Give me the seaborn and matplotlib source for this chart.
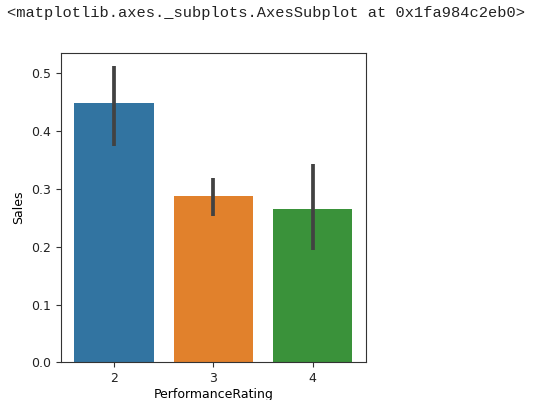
import matplotlib
matplotlib.use("Agg")
import matplotlib.pyplot as plt
import seaborn as sns
import pandas as pd

# Data
ratings = ["2", "3", "4"]
sales_mean = [0.449, 0.288, 0.265]
ci_low = [0.374, 0.253, 0.194]
ci_high = [0.513, 0.319, 0.342]
colors = ["#3274a1", "#e1812c", "#3a923a"]

df = pd.DataFrame({"PerformanceRating": ratings, "Sales": sales_mean})

plt.rcParams["font.size"] = 9

fig = plt.figure(figsize=(5.41, 4.0), dpi=100)
ax = fig.add_axes([0.112, 0.094, 0.565, 0.774])

sns.barplot(data=df, x="PerformanceRating", y="Sales", hue="PerformanceRating",
            palette=colors, errorbar=None, legend=False, ax=ax, width=0.8,
            saturation=1)
ax.vlines(range(len(ratings)), ci_low, ci_high, color="#424242", linewidth=2.7)

ax.set_ylim(0, 0.535)
ax.set_xlabel("PerformanceRating", fontsize=9, labelpad=2)
ax.set_ylabel("Sales", fontsize=9)
ax.tick_params(labelsize=9, colors="#333333", labelcolor="#222222")
for s in ax.spines.values():
    s.set_color("#333333")

fig.text(0.013, 0.967, "<matplotlib.axes._subplots.AxesSubplot at 0x1fa984c2eb0>",
         family="Liberation Mono", fontsize=11.1, va="center", ha="left", color="#222222")

fig.savefig("out.png", dpi=100)
